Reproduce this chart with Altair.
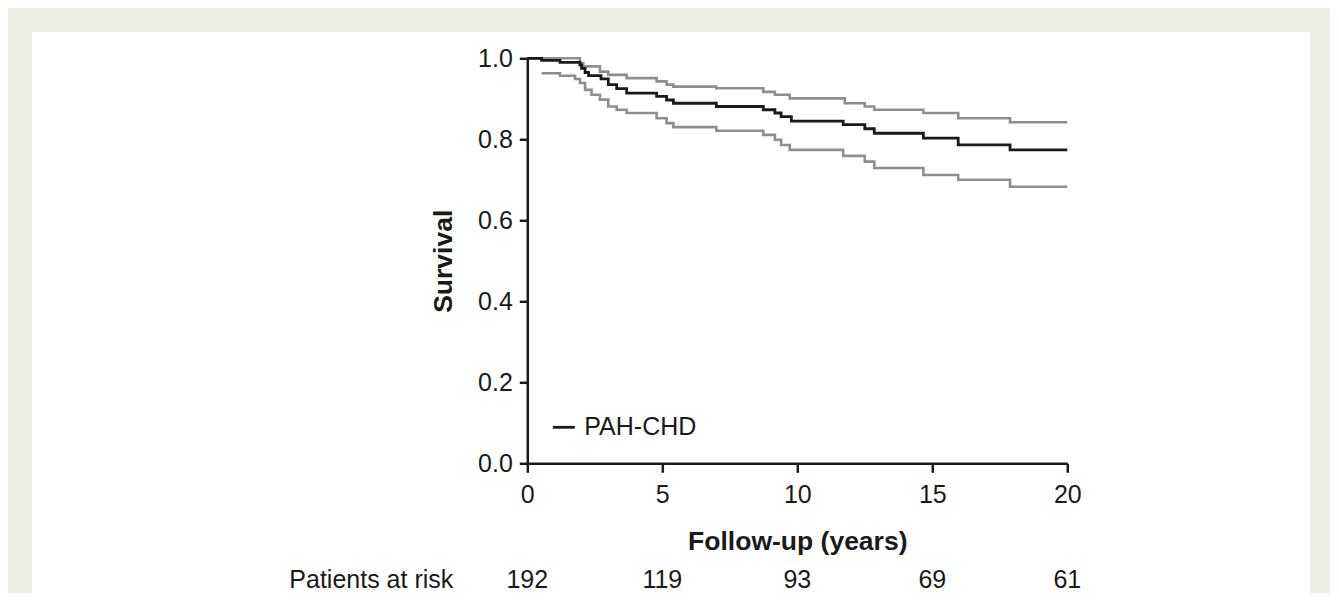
import altair as alt
import pandas as pd

# Kaplan-Meier estimate (step function)
km_time = [0, 0.53, 1.21, 1.95, 2.01, 2.14, 2.27, 2.73, 3.0, 3.31, 3.68, 4.79, 5.16, 5.41,
           7.0, 8.74, 9.17, 9.40, 9.78, 11.7, 12.5, 12.85, 14.67, 15.96, 17.88, 20]
km_surv = [1.0, 0.995, 0.990, 0.984, 0.975, 0.965, 0.957, 0.949, 0.935, 0.925, 0.914, 0.906, 0.897, 0.889,
           0.881, 0.873, 0.865, 0.856, 0.845, 0.836, 0.826, 0.815, 0.803, 0.786, 0.774, 0.774]

upper_time = [0, 1.95, 2.07, 2.69, 3.0, 3.68, 4.79, 5.16, 5.41, 7.0, 8.74, 9.17, 9.72,
              11.76, 12.5, 12.85, 14.67, 15.96, 17.88, 20]
upper_surv = [1.0, 0.988, 0.980, 0.967, 0.959, 0.951, 0.943, 0.935, 0.930, 0.926, 0.917, 0.910, 0.901,
              0.889, 0.881, 0.873, 0.865, 0.852, 0.842, 0.842]

lower_time = [0.53, 1.21, 1.77, 1.95, 2.14, 2.38, 2.69, 3.0, 3.31, 3.68, 4.79, 5.16, 5.41, 7.0,
              8.74, 9.17, 9.40, 9.72, 11.7, 12.5, 12.85, 14.67, 15.96, 17.88, 20]
lower_surv = [0.963, 0.957, 0.949, 0.939, 0.922, 0.910, 0.898, 0.881, 0.873, 0.865, 0.852, 0.840, 0.830, 0.821,
              0.811, 0.799, 0.786, 0.774, 0.759, 0.745, 0.729, 0.712, 0.700, 0.683, 0.683]

risk_years = [0, 5, 10, 15, 20]
risk_counts = [192, 119, 93, 69, 61]

x_ticks = [0, 5, 10, 15, 20]
y_ticks = [0.0, 0.2, 0.4, 0.6, 0.8, 1.0]
series_name = "PAH-CHD"

FONT = "Liberation Sans"
INK = "#1a1a1a"
GREY = "#8e8e8e"
FRAME = "#efeee4"
FS = 25
TFS = 26.5

main_df = pd.DataFrame({"t": km_time, "s": km_surv, "series": series_name})
ci_df = pd.concat([
    pd.DataFrame({"t": upper_time, "s": upper_surv, "band": "upper"}),
    pd.DataFrame({"t": lower_time, "s": lower_surv, "band": "lower"}),
], ignore_index=True)
risk_df = pd.DataFrame({"t": risk_years, "n": risk_counts})

x_scale = alt.Scale(domain=[0, 20], nice=False, zero=False)
y_scale = alt.Scale(domain=[0, 1], nice=False)

x_axis = alt.Axis(values=x_ticks, title="Follow-up (years)", grid=False, labelFlush=False,
                  domainColor=INK, domainWidth=2.5, tickColor=INK, tickWidth=2.5, tickSize=9,
                  labelFont=FONT, labelFontSize=FS, labelColor=INK, labelPadding=10,
                  titleFont=FONT, titleFontSize=TFS, titleFontWeight="bold", titleColor=INK,
                  titlePadding=21, zindex=2)
y_axis = alt.Axis(values=y_ticks, format=".1f", title="Survival", grid=False, labelFlush=False,
                  domainColor=INK, domainWidth=2.5, tickColor=INK, tickWidth=2.5, tickSize=8,
                  labelFont=FONT, labelFontSize=FS, labelColor=INK, labelPadding=7,
                  titleFont=FONT, titleFontSize=TFS, titleFontWeight="bold", titleColor=INK,
                  titlePadding=20, zindex=2)

panel = alt.Chart(pd.DataFrame({"k": [0]})).mark_rect(color="white").encode(
    x=alt.value(-495.3), x2=alt.value(782.7), y=alt.value(-26.3), y2=alt.value(560)
)

ci = alt.Chart(ci_df).mark_line(interpolate="step-after", strokeWidth=2.6, color=GREY, clip=False).encode(
    x=alt.X("t:Q", scale=x_scale, axis=x_axis),
    y=alt.Y("s:Q", scale=y_scale, axis=y_axis),
    detail="band:N",
)

main = alt.Chart(main_df).mark_line(interpolate="step-after", strokeWidth=2.8).encode(
    x=alt.X("t:Q", scale=x_scale),
    y=alt.Y("s:Q", scale=y_scale),
    color=alt.Color("series:N", scale=alt.Scale(domain=[series_name], range=[INK]),
                    legend=alt.Legend(orient="none", legendX=24, legendY=356.5, title=None,
                                      symbolType="stroke", symbolSize=484, symbolStrokeWidth=2.8,
                                      labelFont=FONT, labelFontSize=FS, labelColor=INK,
                                      labelOffset=8, padding=0, zindex=2)),
)

risk_text = alt.Chart(risk_df).mark_text(font=FONT, fontSize=FS, color=INK, baseline="middle").encode(
    x=alt.X("t:Q", scale=x_scale),
    y=alt.value(522),
    text="n:Q",
)

risk_label = alt.Chart(pd.DataFrame({"label": ["Patients at risk"]})).mark_text(
    font=FONT, fontSize=FS, color=INK, baseline="middle", align="right"
).encode(
    x=alt.value(-74), y=alt.value(522), text="label:N"
)

chart = alt.layer(panel, ci, main, risk_text, risk_label).properties(
    width=540, height=405,
    autosize=alt.AutoSizeParams(type="none"),
    padding={"left": 519.3, "top": 50.3, "right": 262.7, "bottom": 129.7},
    background=FRAME,
).configure_view(stroke=None)

chart.save("out.html", embed_options={"renderer": "svg", "actions": False})
